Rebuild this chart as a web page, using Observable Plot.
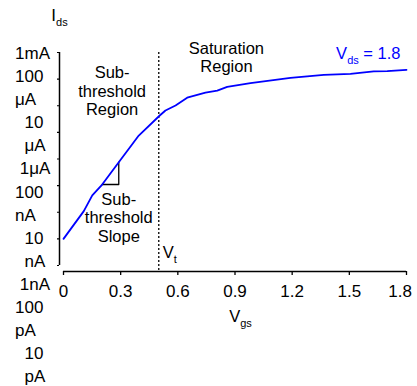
<!DOCTYPE html>
<html>
<head>
<meta charset="utf-8">
<script src="https://cdn.jsdelivr.net/npm/d3@7"></script>
<script src="https://cdn.jsdelivr.net/npm/@observablehq/plot@0.6"></script>
<style>
  html, body { margin: 0; padding: 0; background: #fff; }
  #chart svg { display: block; }
</style>
</head>
<body>
<div id="chart"></div>
<script>
// ---- data ----
const vgs = [0, 0.1065, 0.151, 0.203, 0.29, 0.395, 0.505, 0.535, 0.588, 0.649, 0.745,
             0.807, 0.859, 0.981, 1.051, 1.191, 1.366, 1.506, 1.628, 1.699, 1.8];
const ids = [1e-10, 1.1e-9, 4.3e-9, 1.1e-8, 7.6e-8, 7.6e-7, 4.3e-6, 6.6e-6, 1.02e-5, 2.0e-5, 3.1e-5,
             3.7e-5, 5.1e-5, 7.1e-5, 8.3e-5, 1.12e-4, 1.45e-4, 1.58e-4, 1.94e-4, 2.0e-4, 2.24e-4];
const seriesLabel = "V_{ds} = 1.8";

const yTickValues = [1e-3, 1e-4, 1e-5, 1e-6, 1e-7, 1e-8, 1e-9, 1e-10, 1e-11];
const yTickLabels = ["1mA", "100 μA", "10 μA", "1μA", "100 nA", "10 nA", "1nA", "100 pA", "10 pA"];
const xTickValues = [0, 0.3, 0.6, 0.9, 1.2, 1.5, 1.8];
const xTickLabels = ["0", "0.3", "0.6", "0.9", "1.2", "1.5", "1.8"];
const xLabel = "V_{gs}";
const yLabel = "I_{ds}";

const vt = 0.5;
const vtLabel = "V_{t}";
const vtLabelY = 2.9e-11;
const seriesLabelX = 1.8;
const seriesLabelY = 9.2e-4;

const slopeX = [0.203, 0.29, 0.29];
const slopeY = [1.1e-8, 1.1e-8, 7.6e-8];

const annoText = ["Sub-\nthreshold\nRegion", "Saturation\nRegion", "Sub-\nthreshold\nSlope"];
const annoX = [0.255, 0.855, 0.29];
const annoY = [3.5e-4, 2.8e-3, 6.1e-9];

// ---- layout / style ----
const W = 417, H = 386;
const mL = 63, mR = 11, mT = 52, mB = 121;
const FONT = "'Liberation Sans', Arial, sans-serif";
const BLUE = "#0000ff";

const curve = vgs.map((v, i) => ({vgs: v, ids: ids[i]}));
const slope = slopeX.map((v, i) => ({x: v, y: slopeY[i]}));
const annos = annoText.map((t, i) => ({t, x: annoX[i], y: annoY[i]}));

// y tick labels flow: each label wraps at its space, blocks right-aligned, lines left-aligned
const ctx = document.createElement("canvas").getContext("2d");
ctx.font = `17px ${FONT}`;
const mw = s => ctx.measureText(s).width;
const nb = "\u00a0";
const nbW = mw(nb) || 4.7;
const blocks = yTickLabels.map(l => {
  const parts = l.split(" ");
  const width = parts.length > 1 ? Math.max(mw(parts[0] + " "), ...parts.slice(1).map(mw)) : mw(l);
  return {parts, width};
});
const maxW = d3.max(blocks, b => b.width);
const flow = blocks.flatMap(b => {
  const pad = nb.repeat(Math.max(0, Math.round((maxW - b.width) / nbW)));
  return b.parts.map(p => pad + p);
}).join("\n");
const labelRight = 49.5;

const plot = Plot.plot({
  width: W, height: H,
  marginLeft: mL, marginRight: mR, marginTop: mT, marginBottom: mB,
  style: {fontFamily: FONT, fontSize: "17px", color: "black", background: "white", overflow: "visible"},
  x: {domain: [0, 1.8]},
  y: {type: "log", domain: [1e-11, 1e-3]},
  marks: [
    // axes
    Plot.ruleX([0], {dx: -4, stroke: "black", strokeWidth: 1.5}),
    Plot.axisY(yTickValues, {anchor: "left", tickSize: 2, dx: -4, tickFormat: () => "", label: null, strokeWidth: 1.2}),
    Plot.ruleY([1e-11], {dy: 6, stroke: "black", strokeWidth: 1.5}),
    Plot.axisX(xTickValues, {anchor: "bottom", tickSize: 4, tickPadding: 9.5, dy: 6, strokeWidth: 1.3,
      tickFormat: (d, i) => xTickLabels[i], label: null, fontSize: 17}),
    Plot.text([flow], {text: d => d, frameAnchor: "top-left", textAnchor: "start", lineAnchor: "top",
      lineHeight: 1.36, dx: labelRight - maxW - mL, dy: -10.1, fontSize: 17, fill: "black"}),
    Plot.text([yLabel], {text: d => d, frameAnchor: "top-left", textAnchor: "middle", lineAnchor: "middle",
      dx: -4, dy: -37.4, fontSize: 17}),
    Plot.text([xLabel], {text: d => d, frameAnchor: "bottom", textAnchor: "middle", lineAnchor: "middle",
      dx: 5.5, dy: 51.7, fontSize: 16.5}),
    // threshold line
    Plot.ruleX([vt], {stroke: "black", strokeWidth: 1.3, strokeDasharray: "2,2", insetBottom: -5}),
    Plot.text([vtLabel], {x: vt, y: vtLabelY, text: d => d, textAnchor: "start", lineAnchor: "middle", dx: 4, fontSize: 16.5}),
    // slope triangle
    Plot.line(slope, {x: "x", y: "y", stroke: "black", strokeWidth: 1.3}),
    // curve
    Plot.line(curve, {x: "vgs", y: "ids", stroke: BLUE, strokeWidth: 1.8}),
    Plot.text([seriesLabel], {x: seriesLabelX, y: seriesLabelY, text: d => d, textAnchor: "end", lineAnchor: "middle",
      dx: -6, fill: BLUE, fontSize: 16.5}),
    // annotations
    Plot.text(annos, {x: "x", y: "y", text: "t", textAnchor: "middle", lineAnchor: "top", lineHeight: 1.13, fontSize: 16.5})
  ]
});
document.getElementById("chart").appendChild(plot);

// subscripts: "X_{sub}"
plot.querySelectorAll("text").forEach(t => {
  const nodes = t.querySelector("tspan") ? [...t.querySelectorAll("tspan")] : [t];
  nodes.forEach(n => {
    const s = n.textContent;
    if (!s.includes("_{")) return;
    n.textContent = "";
    const parts = s.split(/_\{([^}]*)\}/);
    parts.forEach((p, i) => {
      if (!p) return;
      const ts = document.createElementNS("http://www.w3.org/2000/svg", "tspan");
      if (i % 2 === 1) { ts.setAttribute("font-size", "11"); ts.setAttribute("dy", "5"); }
      else if (i > 0) ts.setAttribute("dy", "-5");
      ts.textContent = p;
      n.appendChild(ts);
    });
  });
});

// keep x tick labels inside the picture
plot.querySelectorAll('[aria-label="x-axis tick label"] text').forEach(t => {
  const r = t.getBoundingClientRect();
  const over = r.right - (W - 5);
  if (over > 0) t.setAttribute("dx", -over);
});
</script>
</body>
</html>
